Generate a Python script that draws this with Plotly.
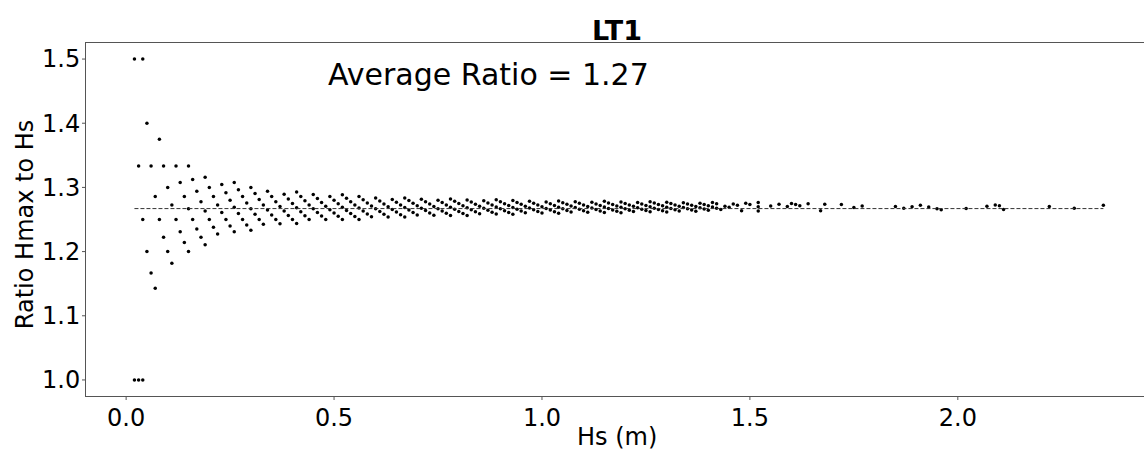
import plotly.graph_objects as go

# Hs and Hmax (centimetres), one entry per plotted point
hs_cm = [
    2, 2, 3, 3, 4, 4, 4, 5, 5, 6, 6, 7, 7, 8, 8, 9, 9, 10, 10,
    11, 11, 12, 12, 13, 13, 14, 14, 15, 15, 15, 16, 16, 17, 17, 18, 18, 19, 19, 19, 20, 20,
    21, 21, 22, 22, 23, 23, 24, 24, 25, 25, 26, 26, 26, 27, 27, 28, 28, 29, 29, 30, 30, 30,
    31, 31, 32, 32, 33, 33, 34, 34, 35, 35, 36, 36, 37, 37, 38, 38, 39, 39, 40, 40,
    41, 41, 41, 42, 42, 43, 43, 44, 44, 45, 45, 46, 46, 47, 47, 48, 48, 49, 49, 50, 50,
    51, 51, 52, 52, 52, 53, 53, 54, 54, 55, 55, 56, 56, 56, 57, 57, 58, 58, 59, 59, 60, 60,
    61, 61, 62, 62, 63, 63, 64, 64, 65, 65, 66, 66, 67, 67, 67, 68, 68, 69, 69, 70, 70,
    71, 71, 72, 72, 73, 73, 74, 74, 75, 75, 76, 76, 77, 77, 78, 78, 78, 79, 79, 80, 80,
    81, 81, 82, 82, 82, 83, 83, 84, 84, 85, 85, 86, 86, 87, 87, 88, 88, 89, 89, 89, 90, 90,
    91, 91, 92, 92, 93, 93, 93, 94, 94, 95, 95, 96, 96, 97, 97, 98, 98, 99, 99, 100, 100,
    101, 101, 102, 102, 103, 103, 104, 104, 104, 105, 105, 106, 106, 107, 107, 108, 108, 109, 109, 110, 110,
    111, 111, 112, 112, 113, 113, 114, 114, 115, 115, 115, 116, 116, 117, 117, 118, 118, 119, 119, 119, 120, 120,
    121, 121, 122, 122, 123, 123, 124, 124, 125, 125, 126, 126, 126, 127, 127, 128, 128, 129, 129, 130, 130, 130,
    131, 131, 132, 132, 133, 133, 134, 134, 135, 135, 136, 136, 137, 137, 138, 138, 139, 139, 140, 140,
    141, 141, 142, 142, 143, 144, 145, 146, 147, 148, 149, 150, 152, 152, 152,
    155, 157, 159, 160, 161, 162, 164, 167, 168, 172, 175, 177, 185, 187, 189, 191, 193, 195, 196,
    202, 207, 209, 210, 211, 222, 228, 235,
]
hmax_cm = [
    2, 3, 3, 4, 4, 5, 6, 6, 7, 7, 8, 8, 9, 10, 11, 11, 12, 12, 13,
    13, 14, 15, 16, 16, 17, 17, 18, 18, 19, 20, 20, 21, 21, 22, 22, 23, 23, 24, 25, 25, 26,
    26, 27, 27, 28, 29, 30, 30, 31, 31, 32, 32, 33, 34, 34, 35, 35, 36, 36, 37, 37, 38, 39,
    39, 40, 40, 41, 41, 42, 43, 44, 44, 45, 45, 46, 46, 47, 48, 49, 49, 50, 50, 51,
    51, 52, 53, 53, 54, 54, 55, 55, 56, 57, 58, 58, 59, 59, 60, 60, 61, 62, 63, 63, 64,
    64, 65, 65, 66, 67, 67, 68, 68, 69, 69, 70, 70, 71, 72, 72, 73, 73, 74, 74, 75, 76, 77,
    77, 78, 78, 79, 79, 80, 81, 82, 82, 83, 83, 84, 84, 85, 86, 86, 87, 87, 88, 88, 89,
    90, 91, 91, 92, 92, 93, 93, 94, 95, 96, 96, 97, 97, 98, 98, 99, 100, 100, 101, 101, 102,
    102, 103, 103, 104, 105, 105, 106, 106, 107, 107, 108, 109, 110, 110, 111, 111, 112, 112, 113, 114, 114, 115,
    115, 116, 116, 117, 117, 118, 119, 119, 120, 120, 121, 121, 122, 123, 124, 124, 125, 125, 126, 126, 127,
    128, 129, 129, 130, 130, 131, 131, 132, 133, 133, 134, 134, 135, 135, 136, 137, 138, 138, 139, 139, 140,
    140, 141, 142, 143, 143, 144, 144, 145, 145, 146, 147, 147, 148, 148, 149, 149, 150, 150, 151, 152, 152, 153,
    153, 154, 154, 155, 156, 157, 157, 158, 158, 159, 159, 160, 161, 161, 162, 162, 163, 163, 164, 164, 165, 166,
    166, 167, 167, 168, 168, 169, 170, 171, 171, 172, 172, 173, 173, 174, 175, 176, 176, 177, 177, 178,
    179, 180, 180, 181, 181, 183, 184, 186, 187, 187, 190, 191, 192, 193, 194,
    197, 200, 202, 204, 205, 206, 209, 211, 214, 219, 222, 225, 235, 237, 240, 243, 245, 247, 248,
    256, 263, 266, 267, 267, 282, 289, 299,
]
assert len(hs_cm) == len(hmax_cm)

avg_ratio = 1.267          # dashed average line
avg_label = "Average Ratio = 1.27"
title_text = "LT1"
x_ticks = [0.0, 0.5, 1.0, 1.5, 2.0]
y_ticks = [1.0, 1.1, 1.2, 1.3, 1.4, 1.5]

hs_m = [h / 100 for h in hs_cm]
ratio = [hm / h for hm, h in zip(hmax_cm, hs_cm)]

FONT = "DejaVu Sans"
AXIS_COLOR = "#555555"
PLOT_H = 450 - 43 - 54
PLOT_W = 1144 - 86
TICK_LEN = 4

fig = go.Figure()
fig.add_trace(go.Scatter(
    x=hs_m, y=ratio, mode="markers",
    marker=dict(size=3.5, color="black", line=dict(width=0)),
    showlegend=False, hoverinfo="skip"))
fig.add_trace(go.Scatter(
    x=[min(hs_m), max(hs_m)], y=[avg_ratio, avg_ratio], mode="lines",
    line=dict(color="#333333", width=1, dash="4px,2px"),
    showlegend=False, hoverinfo="skip"))

axis_common = dict(
    showgrid=False, zeroline=False, showline=True, linecolor=AXIS_COLOR, linewidth=1,
    ticks="", tickfont=dict(family=FONT, size=24, color="black"))

# outside tick marks, placed on the axes' own scales
shapes = []
for v in x_ticks:
    shapes.append(dict(type="line", xref="x", yref="paper", x0=v, x1=v,
                       y0=0, y1=-TICK_LEN / PLOT_H, line=dict(color=AXIS_COLOR, width=1)))
for v in y_ticks:
    shapes.append(dict(type="line", xref="paper", yref="y", y0=v, y1=v,
                       x0=0, x1=-TICK_LEN / PLOT_W, line=dict(color=AXIS_COLOR, width=1)))

fig.update_layout(
    width=1144, height=450,
    margin=dict(l=86, r=0, t=43, b=54, pad=0),
    paper_bgcolor="white", plot_bgcolor="white",
    xaxis=dict(range=[-0.0965, 2.4477], tickvals=x_ticks,
               ticktext=[f"{v:.1f}" for v in x_ticks], mirror=True, **axis_common),
    yaxis=dict(range=[0.975, 1.525], tickvals=y_ticks,
               ticktext=[f"{v:.1f}" for v in y_ticks], mirror=False, **axis_common),
    shapes=shapes,
    annotations=[
        dict(text=avg_label, x=0.4815, y=1.4767, xref="x", yref="y",
             xanchor="left", yanchor="middle", showarrow=False,
             font=dict(family=FONT, size=30, color="black")),
        dict(text=f"<b>{title_text}</b>", x=1.181, y=1.0368, xref="x", yref="paper",
             xanchor="center", yanchor="middle", showarrow=False,
             font=dict(family=FONT, size=27, color="black")),
        dict(text="Hs (m)", x=1.181, y=-0.116, xref="x", yref="paper",
             xanchor="center", yanchor="middle", showarrow=False,
             font=dict(family=FONT, size=24, color="black")),
        dict(text="Ratio Hmax to Hs", x=0, xshift=-61, y=0.484, xref="paper", yref="paper",
             xanchor="center", yanchor="middle", textangle=-90, showarrow=False,
             font=dict(family=FONT, size=24, color="black")),
    ],
)

fig.write_html("out.html")
